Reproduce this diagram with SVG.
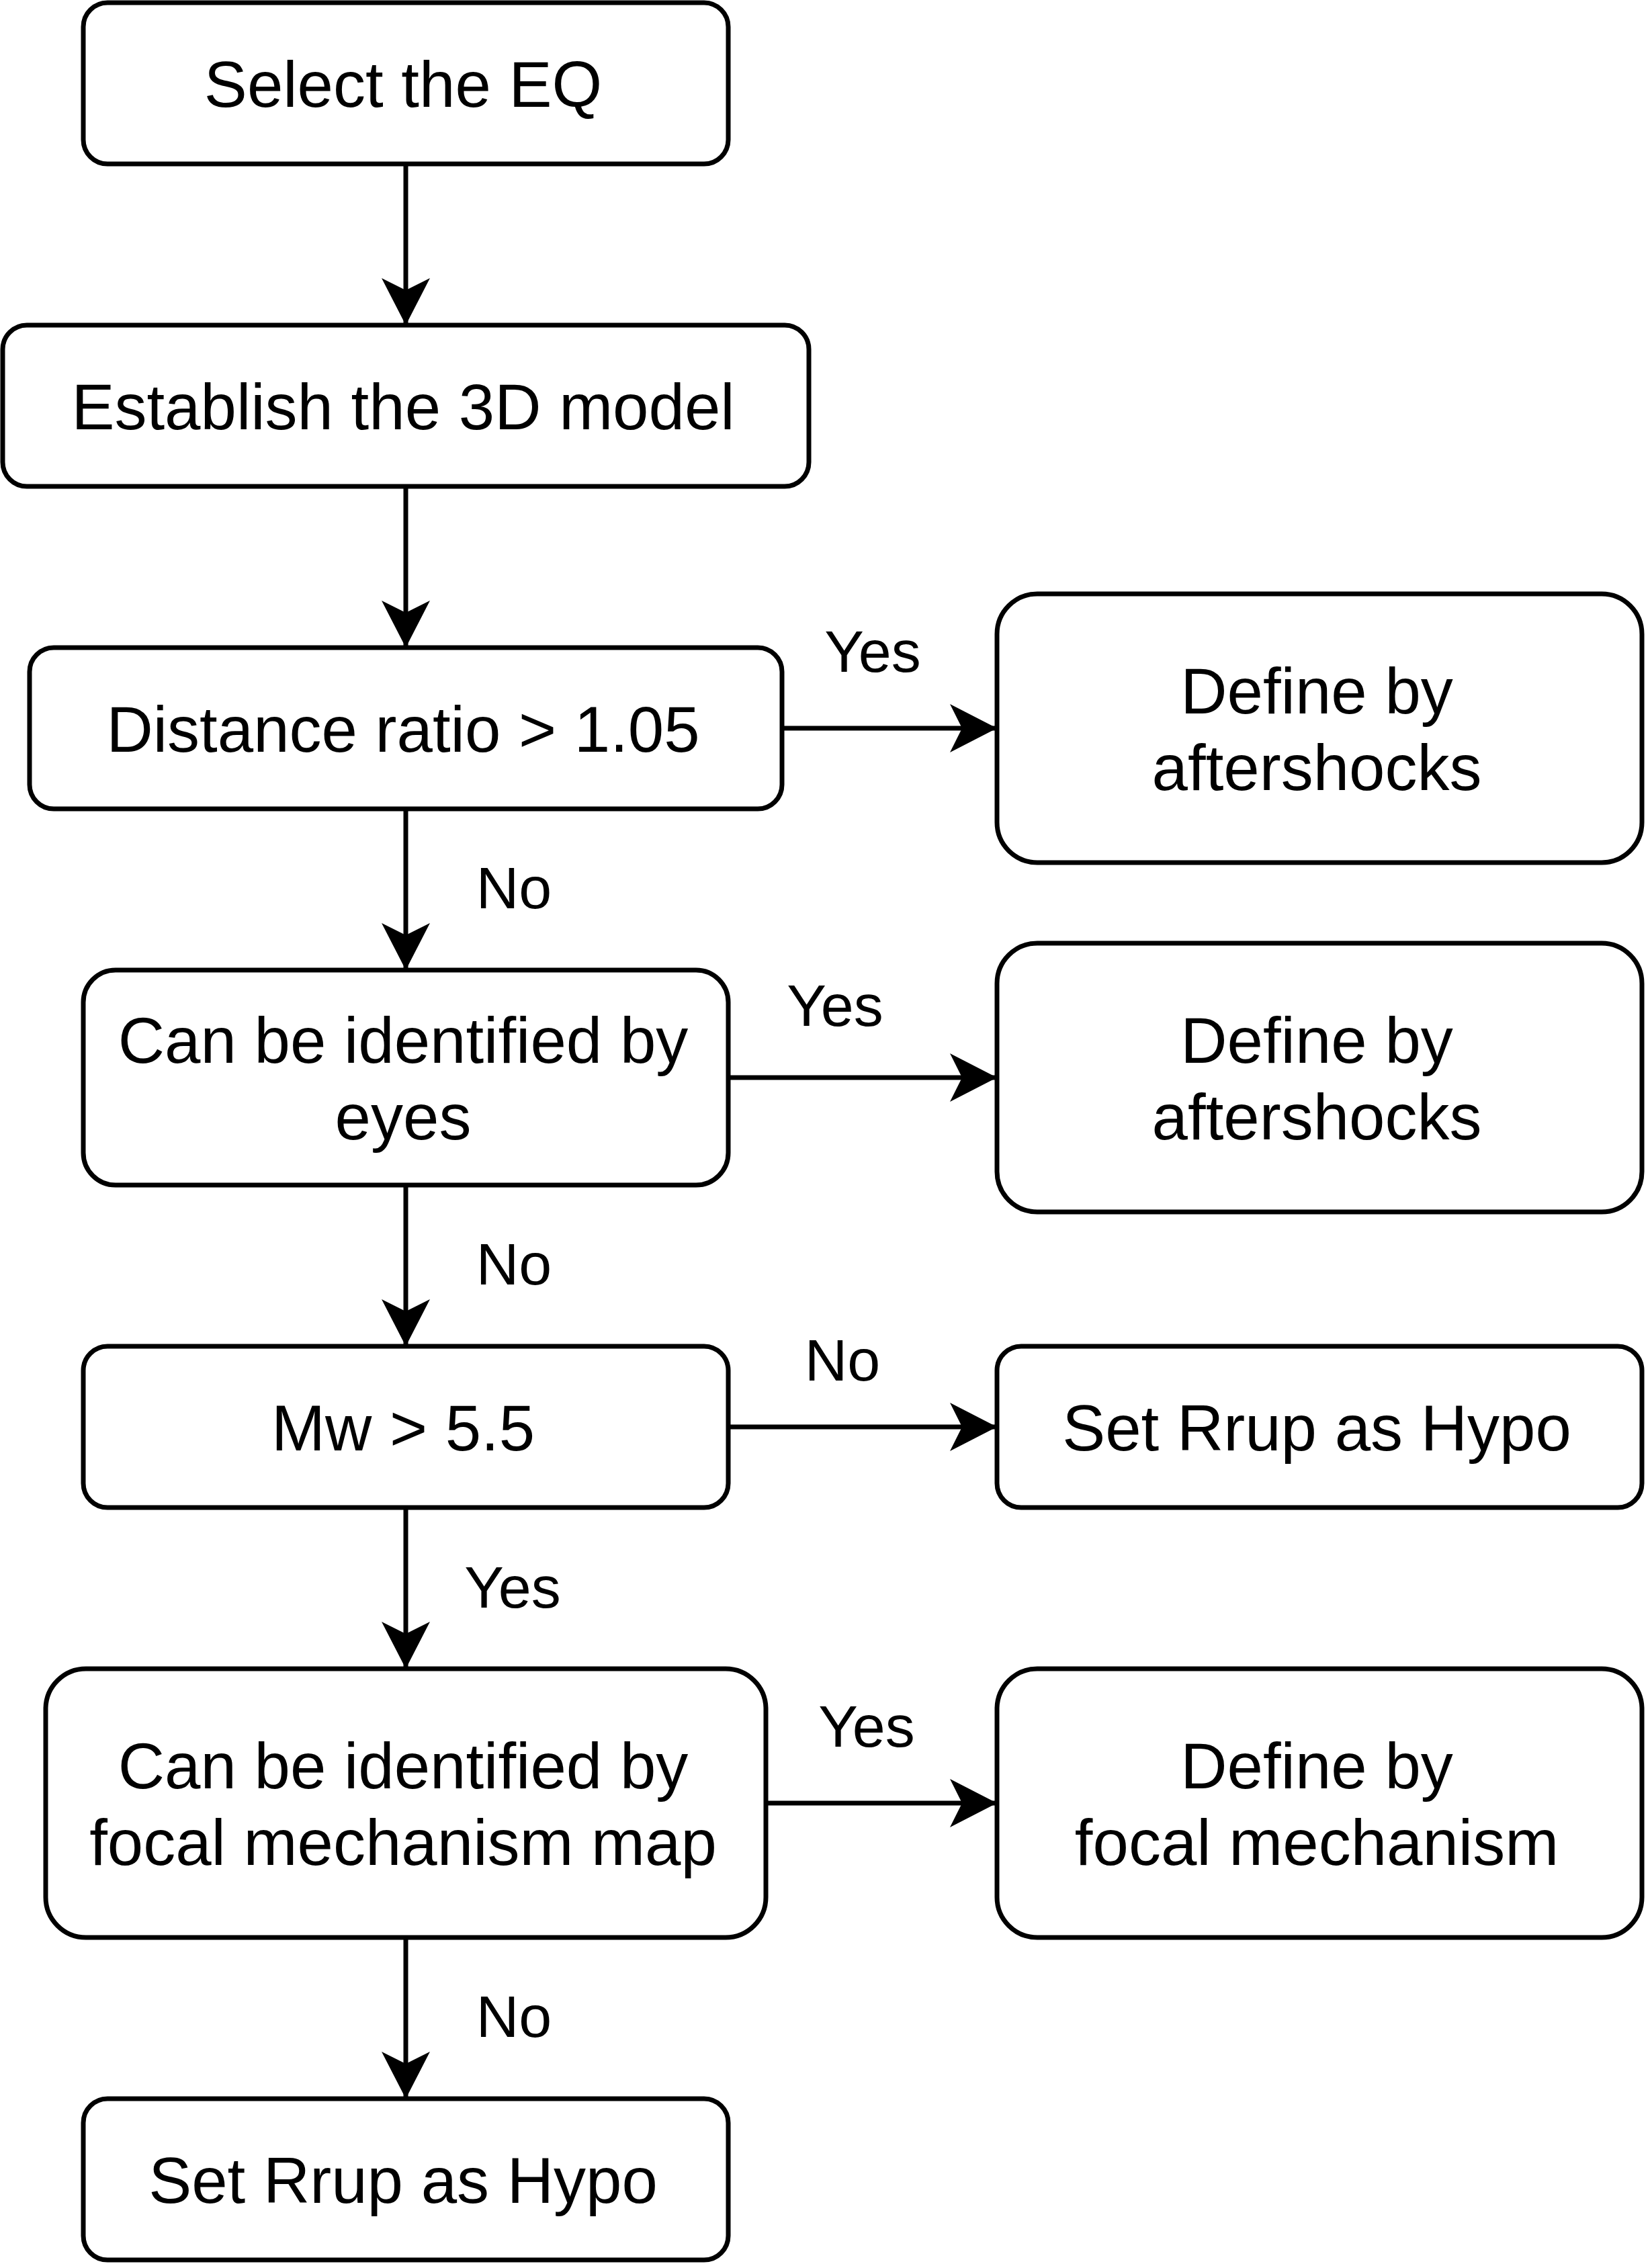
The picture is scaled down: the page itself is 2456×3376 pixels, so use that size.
<svg xmlns="http://www.w3.org/2000/svg" width="2456" height="3376" viewBox="0 0 2456 3376">
<style>
.box{fill:#ffffff;stroke:#000000;stroke-width:7}
.t{font-family:"Liberation Sans",Arial,Helvetica,sans-serif;font-size:96px;fill:#000000;text-anchor:middle}
.lbl{font-family:"Liberation Sans",Arial,Helvetica,sans-serif;font-size:88px;fill:#000000;text-anchor:middle}
.ln{stroke:#000000;stroke-width:7;fill:none}
</style>
<defs>
<marker id="ah" markerUnits="userSpaceOnUse" viewBox="0 0 70 72" refX="70" refY="36" markerWidth="70" markerHeight="72" orient="auto">
<path d="M70,36 L0,0 L18,36 L0,72 Z" fill="#000000"/>
</marker>
</defs>
<rect width="2456" height="3376" fill="#ffffff"/>
<g id="connectors">
<line class="ln" x1="604" y1="244" x2="604" y2="484" marker-end="url(#ah)"/>
<line class="ln" x1="604" y1="724" x2="604" y2="964" marker-end="url(#ah)"/>
<line class="ln" x1="604" y1="1204" x2="604" y2="1444" marker-end="url(#ah)"/>
<line class="ln" x1="604" y1="1764" x2="604" y2="2004" marker-end="url(#ah)"/>
<line class="ln" x1="604" y1="2244" x2="604" y2="2484" marker-end="url(#ah)"/>
<line class="ln" x1="604" y1="2884" x2="604" y2="3124" marker-end="url(#ah)"/>
<line class="ln" x1="1164" y1="1084" x2="1484" y2="1084" marker-end="url(#ah)"/>
<line class="ln" x1="1084" y1="1604" x2="1484" y2="1604" marker-end="url(#ah)"/>
<line class="ln" x1="1084" y1="2124" x2="1484" y2="2124" marker-end="url(#ah)"/>
<line class="ln" x1="1140" y1="2684" x2="1484" y2="2684" marker-end="url(#ah)"/>
<text class="lbl" x="1299" y="1000">Yes</text>
<text class="lbl" x="765" y="1352">No</text>
<text class="lbl" x="1243" y="1527">Yes</text>
<text class="lbl" x="765" y="1912">No</text>
<text class="lbl" x="1254" y="2055">No</text>
<text class="lbl" x="763" y="2393">Yes</text>
<text class="lbl" x="1290" y="2600">Yes</text>
<text class="lbl" x="765" y="3032">No</text>
</g>
<g id="select-eq">
<rect class="box" x="124" y="4" width="960" height="240" rx="36" ry="36"/>
<text class="t" x="600" y="159">Select the EQ</text>
</g>
<g id="establish-3d">
<rect class="box" x="4" y="484" width="1200" height="240" rx="36" ry="36"/>
<text class="t" x="600" y="639">Establish the 3D model</text>
</g>
<g id="distance-ratio">
<rect class="box" x="44" y="964" width="1120" height="240" rx="36" ry="36"/>
<text class="t" x="600" y="1119">Distance ratio &gt; 1.05</text>
</g>
<g id="identified-eyes">
<rect class="box" x="124" y="1444" width="960" height="320" rx="48" ry="48"/>
<text class="t" x="600" y="1582">Can be identified by</text>
<text class="t" x="600" y="1696">eyes</text>
</g>
<g id="mw">
<rect class="box" x="124" y="2004" width="960" height="240" rx="36" ry="36"/>
<text class="t" x="600" y="2159">Mw &gt; 5.5</text>
</g>
<g id="identified-focal">
<rect class="box" x="68" y="2484" width="1072" height="400" rx="60" ry="60"/>
<text class="t" x="600" y="2662">Can be identified by</text>
<text class="t" x="600" y="2776">focal mechanism map</text>
</g>
<g id="set-rrup-bottom">
<rect class="box" x="124" y="3124" width="960" height="240" rx="36" ry="36"/>
<text class="t" x="600" y="3279">Set Rrup as Hypo</text>
</g>
<g id="define-aftershocks-1">
<rect class="box" x="1484" y="884" width="960" height="400" rx="60" ry="60"/>
<text class="t" x="1960" y="1062">Define by</text>
<text class="t" x="1960" y="1176">aftershocks</text>
</g>
<g id="define-aftershocks-2">
<rect class="box" x="1484" y="1404" width="960" height="400" rx="60" ry="60"/>
<text class="t" x="1960" y="1582">Define by</text>
<text class="t" x="1960" y="1696">aftershocks</text>
</g>
<g id="set-rrup-right">
<rect class="box" x="1484" y="2004" width="960" height="240" rx="36" ry="36"/>
<text class="t" x="1960" y="2159">Set Rrup as Hypo</text>
</g>
<g id="define-focal">
<rect class="box" x="1484" y="2484" width="960" height="400" rx="60" ry="60"/>
<text class="t" x="1960" y="2662">Define by</text>
<text class="t" x="1960" y="2776">focal mechanism</text>
</g>
</svg>
